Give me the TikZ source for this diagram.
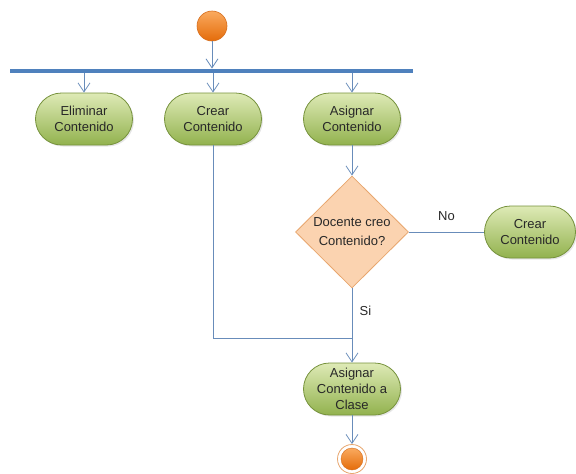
\documentclass[tikz,border=0pt]{standalone}
\usepackage{fontspec}
\setmainfont{Liberation Sans}
\usetikzlibrary{arrows.meta,shapes.misc,shapes.geometric,shadows}

\definecolor{flow}{RGB}{104,140,186}
\definecolor{barblue}{RGB}{79,129,189}
\definecolor{actTop}{RGB}{222,234,182}
\definecolor{actBot}{RGB}{146,178,78}
\definecolor{actLine}{RGB}{118,146,60}
\definecolor{decFill}{RGB}{251,211,176}
\definecolor{decLine}{RGB}{232,166,110}
\definecolor{dotTop}{RGB}{250,170,95}
\definecolor{dotBot}{RGB}{228,108,10}
\definecolor{dotLine}{RGB}{214,110,30}
\definecolor{txt}{RGB}{40,40,40}

\tikzset{
  nodefont/.style={font=\fontsize{13}{16}\selectfont},
  activity/.style={rounded rectangle, draw=actLine, line width=0.8pt,
    top color=actTop, bottom color=actBot, text=txt,
    minimum width=101pt, minimum height=52pt, inner sep=2pt,
    align=center, nodefont,
    drop shadow={shadow xshift=1.5pt, shadow yshift=-1.5pt, opacity=0.2}},
  decision/.style={diamond, draw=decLine, line width=0.8pt, fill=decFill,
    text=txt, minimum width=113pt, minimum height=112pt, inner sep=0pt,
    align=center, font=\fontsize{13}{19}\selectfont},
  startdot/.style={circle, draw=dotLine, line width=0.6pt,
    top color=dotTop, bottom color=dotBot, minimum size=30pt, inner sep=0pt},
  flowline/.style={draw=flow, line width=0.8pt},
  flowarrow/.style={flowline, -{Straight Barb[length=9pt,width=12pt,line width=0.8pt]}},
  lbl/.style={text=txt, nodefont}
}

\begin{document}
\begin{tikzpicture}[x=1pt,y=-1pt]
\useasboundingbox (0,0) rectangle (576,474);

% initial node and fork bar
\node[startdot] (start) at (212,26) {};
\node[fill=barblue, inner sep=0pt, minimum width=403pt, minimum height=4.5pt] (bar) at (211.5,71) {};

% activities
\node[activity] (elim) at (84,119) {Eliminar\\Contenido};
\node[activity] (crear) at (213,119) {Crear\\Contenido};
\node[activity] (asig) at (352,119) {Asignar\\Contenido};
\node[decision] (dec) at (352,232) {Docente creo\\Contenido?};
\node[activity, minimum width=95pt] (crear2) at (530,232) {Crear\\Contenido};
\node[activity] (clase) at (352,389) {Asignar\\Contenido a\\Clase};

% final node
\node[circle, draw=decLine, line width=0.8pt, fill=white, minimum size=29pt, inner sep=0pt] (fin) at (352,459) {};
\node[circle, draw=dotLine, line width=0.4pt, top color=dotTop, bottom color=dotBot, minimum size=22pt, inner sep=0pt] (finin) at (fin.center) {};

\coordinate (join) at (352,338);

% flows
\draw[flowarrow] (start) -- (bar.north -| start);
\draw[flowarrow] (bar.south -| elim) -- (elim.north);
\draw[flowarrow] (bar.south -| crear) -- (crear.north);
\draw[flowarrow] (bar.south -| asig) -- (asig.north);
\draw[flowarrow] (asig.south) -- (dec.north);
\draw[flowline] (dec.east) -- node[lbl, above=8pt, pos=0.5] {No} (crear2.west);
\draw[flowline] (dec.south) -- node[lbl, right=4pt, pos=0.45] {Si} (join);
\draw[flowline] (crear.south) |- (join);
\draw[flowarrow] (join) -- (clase.north);
\draw[flowarrow] (clase.south) -- (fin.north);
\end{tikzpicture}
\end{document}
